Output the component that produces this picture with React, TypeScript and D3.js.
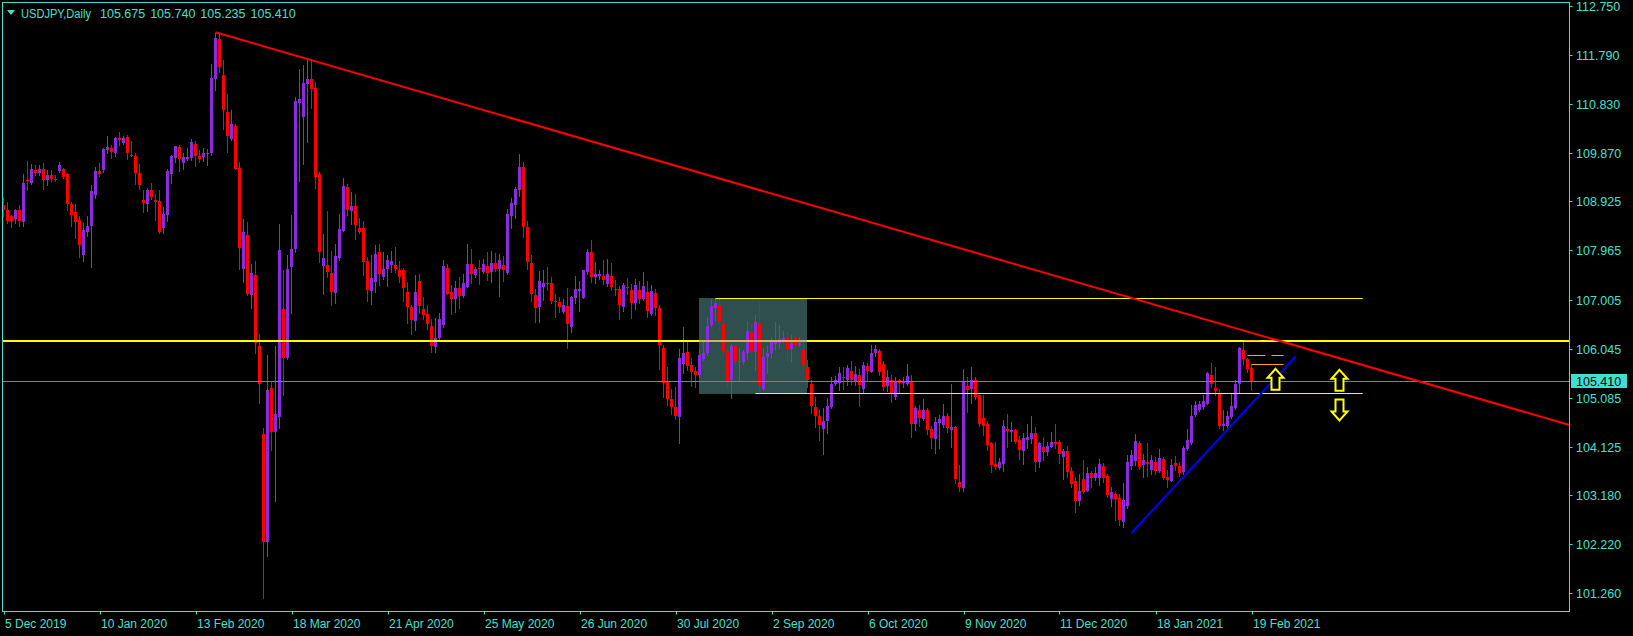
import React, { useEffect, useRef } from "react";
import { select, scaleLinear } from "d3";

// [open, high, low, close]
type Bar = [number, number, number, number];

const from5Dec2019: Bar[] = [
  [108.85, 109.01, 108.62, 108.75], [108.75, 108.92, 108.5, 108.54], [108.63, 108.66, 108.42, 108.54],
  [108.57, 108.78, 108.5, 108.75], [108.75, 108.85, 108.44, 108.54], [108.52, 109.45, 108.44, 109.29],
  [109.35, 109.71, 109.14, 109.32], [109.28, 109.66, 109.27, 109.56], [109.53, 109.63, 109.43, 109.48],
  [109.48, 109.63, 109.43, 109.56], [109.55, 109.68, 109.17, 109.34], [109.34, 109.53, 109.24, 109.43],
  [109.43, 109.53, 109.32, 109.36], [109.37, 109.43, 109.32, 109.36], [109.52, 109.69, 109.5, 109.64],
  [109.55, 109.58, 109.38, 109.4], [109.45, 109.48, 108.75, 108.87], [108.87, 108.91, 108.45, 108.66],
  [108.71, 108.87, 108.21, 108.53], [108.55, 108.63, 107.83, 108.07], [107.87, 108.51, 107.76, 108.37],
  [108.32, 108.63, 108.24, 108.45], [108.44, 109.24, 107.64, 109.13], [109.05, 109.59, 108.99, 109.52],
];

const from10Jan2020: Bar[] = [
  [109.51, 109.68, 109.42, 109.46], [109.54, 109.96, 109.5, 109.94], [109.92, 110.21, 109.86, 109.99],
  [109.96, 110.02, 109.77, 109.89], [109.87, 110.18, 109.82, 110.16], [110.16, 110.29, 110.03, 110.12],
  [110.07, 110.21, 110.04, 110.17], [110.18, 110.22, 109.75, 109.86], [109.84, 110.1, 109.82, 109.82],
  [109.82, 109.86, 109.27, 109.48], [109.48, 109.65, 109.17, 109.24], [108.96, 109.14, 108.71, 108.89],
  [108.87, 109.19, 108.74, 109.14], [109.14, 109.28, 108.97, 109.01], [108.96, 109.06, 108.55, 108.92],
  [108.94, 109.14, 108.3, 108.32], [108.4, 108.81, 108.3, 108.67], [108.66, 109.55, 108.54, 109.52],
  [109.45, 109.84, 109.28, 109.82], [109.77, 110.01, 109.69, 110.0], [109.98, 110.02, 109.52, 109.75],
  [109.67, 109.87, 109.56, 109.79], [109.75, 109.97, 109.73, 109.79], [109.78, 110.14, 109.74, 110.09],
];

const from13Feb2020: Bar[] = [
  [110.05, 110.1, 109.62, 109.82], [109.82, 109.92, 109.69, 109.75], [109.79, 109.96, 109.71, 109.86],
  [109.85, 109.94, 109.64, 109.86], [109.87, 111.61, 109.83, 111.34], [111.31, 112.21, 111.11, 112.12],
  [112.1, 112.19, 111.45, 111.55], [111.39, 111.69, 110.33, 110.72], [110.67, 111.03, 109.88, 110.21],
  [110.15, 110.71, 110.12, 110.43], [110.39, 110.44, 109.55, 109.56], [109.58, 109.69, 107.61, 108.01],
  [107.61, 108.57, 107.35, 108.33], [108.27, 108.53, 107.09, 107.12], [107.09, 107.7, 106.84, 107.53],
  [107.49, 107.76, 105.95, 106.16], [106.09, 106.34, 104.98, 105.35], [104.38, 104.5, 101.17, 102.26],
  [102.26, 105.92, 101.99, 105.24], [105.27, 105.39, 104.07, 104.41], [104.41, 106.1, 103.07, 104.77],
  [104.71, 108.49, 104.49, 107.98], [106.81, 107.58, 105.13, 105.86], [105.86, 107.87, 105.84, 107.61],
];

const from18Mar2020: Bar[] = [
  [107.65, 108.65, 106.74, 108.0], [108.0, 110.96, 107.93, 110.89], [110.85, 111.51, 109.32, 110.92],
  [110.58, 111.6, 109.65, 111.23], [111.22, 111.7, 110.09, 111.31], [111.31, 111.7, 110.75, 111.13],
  [111.15, 111.25, 109.19, 109.4], [109.45, 109.49, 107.73, 107.93], [107.66, 108.29, 107.12, 107.81],
  [107.68, 108.73, 107.44, 107.54], [107.52, 107.95, 106.89, 107.15], [107.13, 108.1, 106.94, 107.86],
  [107.81, 108.67, 107.77, 108.38], [108.35, 109.38, 108.35, 109.23], [109.2, 109.27, 108.65, 108.75],
  [108.74, 109.1, 108.49, 108.83], [108.83, 109.07, 108.18, 108.46], [108.4, 108.6, 108.31, 108.32],
  [108.4, 108.54, 107.48, 107.73], [107.76, 107.83, 106.97, 107.19], [107.17, 107.87, 106.91, 107.43],
  [107.35, 108.08, 107.15, 107.89], [107.93, 108.09, 107.29, 107.5], [107.44, 107.94, 107.4, 107.61],
];

const from21Apr2020: Bar[] = [
  [107.6, 107.88, 107.26, 107.77], [107.68, 107.95, 107.54, 107.76], [107.67, 108.04, 107.54, 107.6],
  [107.58, 107.76, 107.35, 107.45], [107.58, 107.62, 106.97, 107.23], [107.15, 107.34, 106.54, 106.86],
  [106.85, 106.89, 106.34, 106.6], [106.59, 107.49, 106.41, 107.15], [107.37, 107.5, 106.75, 106.88],
  [106.81, 107.06, 106.63, 106.7], [106.73, 106.89, 106.42, 106.52], [106.48, 106.62, 105.98, 106.1],
  [106.08, 106.65, 105.98, 106.25], [106.25, 106.75, 106.21, 106.63], [106.5, 107.77, 106.47, 107.66],
  [107.62, 107.69, 107.11, 107.12], [107.15, 107.28, 106.72, 107.01], [107.02, 107.36, 106.76, 107.23],
  [107.23, 107.44, 106.84, 107.08], [107.08, 107.5, 107.06, 107.32], [107.25, 108.09, 107.25, 107.7],
  [107.7, 107.99, 107.33, 107.5], [107.48, 107.64, 107.45, 107.6], [107.62, 107.77, 107.31, 107.6],
];

const from25May2020: Bar[] = [
  [107.55, 107.79, 107.52, 107.69], [107.66, 107.93, 107.39, 107.53], [107.55, 107.95, 107.35, 107.71],
  [107.71, 107.91, 107.57, 107.61], [107.61, 107.9, 107.08, 107.77], [107.67, 107.85, 107.37, 107.58],
  [107.53, 108.77, 107.5, 108.67], [108.64, 108.99, 108.41, 108.9], [108.86, 109.2, 108.6, 109.16],
  [109.15, 109.85, 109.03, 109.59], [109.59, 109.69, 108.23, 108.42], [108.42, 108.54, 107.6, 107.74],
  [107.71, 107.87, 106.97, 107.11], [107.09, 107.22, 106.57, 106.84], [106.86, 107.56, 106.57, 107.36],
  [107.25, 107.58, 106.99, 107.32], [107.32, 107.64, 107.2, 107.31], [107.32, 107.45, 106.94, 106.98],
  [106.97, 107.12, 106.66, 106.96], [106.95, 107.06, 106.76, 106.85], [106.76, 107.01, 106.74, 106.89],
  [106.88, 107.23, 106.06, 106.53], [106.47, 107.08, 106.37, 107.05], [107.04, 107.46, 106.93, 107.21],
];

const from26Jun2020: Bar[] = [
  [107.18, 107.36, 106.78, 107.21], [107.04, 107.59, 107.04, 107.58], [107.54, 107.99, 107.51, 107.93],
  [107.93, 108.16, 107.35, 107.45], [107.45, 107.73, 107.33, 107.5], [107.47, 107.58, 107.4, 107.5],
  [107.46, 107.77, 107.3, 107.39], [107.31, 107.79, 107.27, 107.51], [107.47, 107.71, 107.2, 107.25],
  [107.21, 107.39, 107.1, 107.19], [107.21, 107.26, 106.63, 106.89], [106.86, 107.32, 106.78, 107.28],
  [107.24, 107.42, 107.11, 107.23], [107.19, 107.3, 106.64, 106.94], [106.93, 107.4, 106.82, 107.28],
  [107.2, 107.37, 106.93, 107.02], [107.02, 107.55, 107.0, 107.26], [107.15, 107.36, 106.66, 106.78],
  [106.72, 107.28, 106.71, 107.17], [107.13, 107.22, 106.71, 106.84], [106.84, 106.89, 105.65, 106.11],
  [106.06, 106.11, 105.1, 105.37], [105.41, 105.68, 104.94, 105.06], [105.05, 105.25, 104.76, 104.9],
];

const from30Jul2020: Bar[] = [
  [104.9, 105.29, 104.66, 104.73], [104.71, 106.04, 104.19, 105.86], [105.74, 106.46, 105.57, 105.95],
  [105.97, 106.19, 105.62, 105.71], [105.72, 105.87, 105.31, 105.59], [105.6, 105.69, 105.3, 105.52],
  [105.52, 106.04, 105.49, 105.91], [105.85, 106.19, 105.83, 105.95], [105.95, 106.66, 105.91, 106.49],
  [106.51, 107.02, 106.49, 106.87], [106.83, 107.04, 106.6, 106.93], [106.89, 107.02, 106.42, 106.57],
  [106.52, 106.6, 105.88, 105.98], [105.99, 106.03, 105.28, 105.4], [105.43, 106.13, 105.08, 106.1],
  [106.1, 106.12, 105.72, 105.8], [105.78, 106.06, 105.44, 105.8], [105.79, 106.01, 105.74, 105.97],
  [105.96, 106.58, 105.85, 106.38], [106.36, 106.53, 105.91, 105.98], [105.98, 106.7, 105.62, 106.57],
  [106.55, 106.95, 105.17, 105.33], [105.26, 106.06, 105.24, 105.88], [105.88, 106.12, 105.56, 105.95],
];

const from2Sep2020: Bar[] = [
  [105.95, 106.27, 105.86, 106.19], [106.13, 106.57, 106.01, 106.2], [106.16, 106.5, 106.05, 106.23],
  [106.22, 106.38, 106.18, 106.25], [106.26, 106.37, 105.83, 106.03], [106.03, 106.31, 105.8, 106.16],
  [106.25, 106.31, 106.04, 106.11], [106.12, 106.27, 106.1, 106.16], [106.01, 106.13, 105.56, 105.71],
  [105.68, 105.82, 105.3, 105.43], [105.35, 105.44, 104.79, 104.92], [104.9, 105.1, 104.51, 104.73],
  [104.72, 104.87, 104.26, 104.56], [104.48, 104.88, 103.99, 104.63], [104.63, 105.07, 104.39, 104.92],
  [104.9, 105.49, 104.89, 105.36], [105.36, 105.51, 105.33, 105.43], [105.38, 105.69, 105.23, 105.56],
  [105.48, 105.69, 105.26, 105.47], [105.44, 105.73, 105.33, 105.67], [105.6, 105.8, 105.36, 105.44],
  [105.41, 105.71, 105.33, 105.54], [105.52, 105.64, 104.92, 105.34], [105.26, 105.78, 105.2, 105.73],
];

const from6Oct2020: Bar[] = [
  [105.71, 105.77, 105.44, 105.61], [105.59, 106.11, 105.58, 105.95], [105.95, 106.11, 105.9, 106.03],
  [106.0, 106.04, 105.52, 105.59], [105.74, 105.8, 105.23, 105.29], [105.31, 105.62, 105.22, 105.48],
  [105.44, 105.52, 105.01, 105.18], [105.1, 105.48, 105.05, 105.42], [105.43, 105.46, 105.18, 105.37],
  [105.37, 105.49, 105.29, 105.42], [105.36, 105.74, 105.33, 105.5], [105.42, 105.52, 104.32, 104.58],
  [104.58, 104.92, 104.45, 104.88], [104.84, 104.94, 104.53, 104.69], [104.66, 105.05, 104.64, 104.84],
  [104.84, 104.89, 104.37, 104.45], [104.47, 104.54, 104.1, 104.3], [104.28, 104.71, 104.01, 104.6],
  [104.59, 104.74, 104.1, 104.66], [104.55, 104.96, 104.52, 104.73], [104.72, 104.79, 104.41, 104.5],
  [104.45, 105.35, 104.13, 104.51], [104.51, 104.53, 103.42, 103.49], [103.43, 103.76, 103.27, 103.34],
];

const from9Nov2020: Bar[] = [
  [103.32, 105.64, 103.27, 105.39], [105.31, 105.48, 104.81, 105.23], [105.26, 105.69, 104.98, 105.43],
  [105.43, 105.49, 105.05, 105.09], [105.13, 105.14, 104.54, 104.58], [104.69, 105.13, 104.36, 104.54],
  [104.58, 104.62, 104.06, 104.16], [104.19, 104.22, 103.63, 103.77], [103.79, 104.21, 103.7, 103.73],
  [103.71, 103.9, 103.7, 103.83], [103.79, 104.64, 103.66, 104.54], [104.47, 104.76, 104.12, 104.43],
  [104.41, 104.6, 104.24, 104.45], [104.45, 104.48, 104.19, 104.21], [104.26, 104.33, 103.89, 104.06],
  [104.04, 104.4, 103.79, 104.3], [104.26, 104.58, 104.1, 104.32], [104.28, 104.73, 104.19, 104.4],
  [104.4, 104.52, 103.65, 103.83], [103.83, 104.22, 103.73, 104.19], [104.13, 104.31, 103.87, 104.02],
  [104.02, 104.22, 103.96, 104.15], [104.13, 104.41, 104.12, 104.22], [104.22, 104.58, 104.1, 104.17],
];

const from11Dec2020: Bar[] = [
  [104.22, 104.26, 103.81, 103.99], [103.93, 104.09, 103.5, 104.04], [104.04, 104.15, 103.53, 103.63],
  [103.66, 103.73, 103.34, 103.39], [103.45, 103.53, 102.85, 103.06], [103.06, 103.59, 102.98, 103.27],
  [103.5, 103.87, 103.23, 103.24], [103.27, 103.73, 103.26, 103.61], [103.61, 103.66, 103.34, 103.51],
  [103.51, 103.73, 103.48, 103.62], [103.51, 103.89, 103.38, 103.78], [103.74, 103.8, 103.44, 103.51],
  [103.55, 103.59, 103.14, 103.18], [103.1, 103.33, 102.96, 103.25], [103.2, 103.27, 102.7, 103.1],
  [103.12, 103.21, 102.59, 102.69], [102.65, 103.42, 102.56, 103.09], [102.97, 103.96, 102.93, 103.82],
  [103.75, 104.06, 103.7, 103.96], [103.85, 104.38, 103.76, 104.23], [104.19, 104.23, 103.7, 103.73],
  [103.76, 103.99, 103.53, 103.86], [103.83, 104.19, 103.55, 103.78], [103.68, 103.96, 103.59, 103.86],
];

const from18Jan2021: Bar[] = [
  [103.83, 103.93, 103.6, 103.66], [103.66, 104.08, 103.63, 103.9], [103.88, 103.93, 103.49, 103.52],
  [103.53, 103.68, 103.33, 103.48], [103.46, 103.89, 103.45, 103.76], [103.8, 103.94, 103.68, 103.74],
  [103.74, 103.83, 103.55, 103.61], [103.63, 104.15, 103.59, 104.11], [104.09, 104.47, 104.07, 104.25],
  [104.19, 104.94, 104.17, 104.72], [104.75, 105.03, 104.72, 104.94], [104.85, 105.03, 104.83, 104.96],
  [104.9, 105.13, 104.86, 105.03], [104.97, 105.58, 104.96, 105.56], [105.52, 105.76, 105.29, 105.36],
  [105.28, 105.69, 105.13, 105.21], [105.18, 105.26, 104.5, 104.54], [104.54, 104.84, 104.45, 104.58],
  [104.53, 104.83, 104.51, 104.73], [104.7, 105.15, 104.69, 104.92], [104.88, 105.43, 104.87, 105.36],
  [105.36, 106.08, 105.17, 106.05], [106.01, 106.22, 105.75, 105.84], [105.85, 105.87, 105.58, 105.65],
];

const from19Feb2021: Bar[] = [[105.675, 105.74, 105.235, 105.41]];

const segments = [
  { label: "5 Dec 2019", bars: from5Dec2019 },
  { label: "10 Jan 2020", bars: from10Jan2020 },
  { label: "13 Feb 2020", bars: from13Feb2020 },
  { label: "18 Mar 2020", bars: from18Mar2020 },
  { label: "21 Apr 2020", bars: from21Apr2020 },
  { label: "25 May 2020", bars: from25May2020 },
  { label: "26 Jun 2020", bars: from26Jun2020 },
  { label: "30 Jul 2020", bars: from30Jul2020 },
  { label: "2 Sep 2020", bars: from2Sep2020 },
  { label: "6 Oct 2020", bars: from6Oct2020 },
  { label: "9 Nov 2020", bars: from9Nov2020 },
  { label: "11 Dec 2020", bars: from11Dec2020 },
  { label: "18 Jan 2021", bars: from18Jan2021 },
  { label: "19 Feb 2021", bars: from19Feb2021 },
];

const priceTicks = [
  112.75, 111.79, 110.83, 109.87, 108.925, 107.965, 107.005, 106.045, 105.085, 104.125, 103.18,
  102.22, 101.26,
];

const symbolTitle = "USDJPY,Daily";
const bidPrice = 105.41;
const resistance = 106.19;

// drawn objects (bar index, price)
const redTrend = [{ bar: 53, price: 112.23 }, { bar: 310, price: 106.4 }];
const blueTrend = [{ bar: 282, price: 102.44 }, { bar: 323, price: 105.89 }];
const rangeBox = { from: 173.9, to: 200.8, top: 107.04, bottom: 105.17 };
const rangeLines = [
  { from: 178, to: 339.8, price: 107.04 },
  { from: 188, to: 339.8, price: 105.17 },
];
const highLines = [
  { from: 310, to: 320, price: 106.22, color: "#ffc000", dash: "17,6" },
  { from: 311, to: 320, price: 105.91, color: "#ffa500", dash: "18,6" },
  { from: 312, to: 320, price: 105.74, color: "#ffa500", dash: null },
];
const arrows = [
  { bar: 318, price: 105.65, dir: "up" },
  { bar: 334, price: 105.63, dir: "up" },
  { bar: 334, price: 104.64, dir: "down" },
];

const FG = "#40e0d0";
const BULL = "#8a2be2";
const BEAR = "#ff0000";
const FONT = "'Liberation Sans', Arial, sans-serif";

const App = () => {
  const svgRef = useRef<SVGSVGElement>(null);

  useEffect(() => {
    const width = 1633;
    const height = 636;
    const left = 2.5;
    const right = 1569.5;
    const top = 2.5;
    const bottom = 611.5;

    const bars = segments.flatMap((s) => s.bars);
    const starts: number[] = [];
    segments.reduce((n, s) => {
      starts.push(n);
      return n + s.bars.length;
    }, 0);

    const xScale = scaleLinear().domain([0, bars.length - 1]).range([3.5, 1251.5]);
    const yScale = scaleLinear().domain([101.26, 112.75]).range([593.3, 5.7]);
    const lastBar = xScale.invert(right);
    const py = (p: number) => Math.round(yScale(p)) + 0.5;

    const svg = select(svgRef.current);
    svg.selectAll("*").remove();
    svg.attr("width", width).attr("height", height);

    svg.append("rect").attr("width", width).attr("height", height).attr("fill", "#000");

    // range rectangle (background object)
    svg
      .append("rect")
      .attr("x", Math.round(xScale(rangeBox.from)))
      .attr("y", Math.round(yScale(rangeBox.top)))
      .attr("width", Math.round(xScale(rangeBox.to) - xScale(rangeBox.from)))
      .attr("height", Math.round(yScale(rangeBox.bottom) - yScale(rangeBox.top)))
      .attr("fill", "#2f4f4f");

    // candles
    const g = svg.append("g");
    g.selectAll("line")
      .data(bars)
      .join("line")
      .attr("x1", (d, i) => xScale(i))
      .attr("x2", (d, i) => xScale(i))
      .attr("y1", (d) => Math.round(yScale(d[1])))
      .attr("y2", (d) => Math.round(yScale(d[2])) + 1)
      .attr("stroke", (d) => (d[3] >= d[0] ? BULL : BEAR))
      .attr("stroke-width", 1);

    g.selectAll("rect")
      .data(bars)
      .join("rect")
      .attr("x", (d, i) => xScale(i) - 1.5)
      .attr("width", 3)
      .attr("y", (d) => Math.round(yScale(Math.max(d[0], d[3]))))
      .attr("height", (d) =>
        Math.max(1, Math.round(yScale(Math.min(d[0], d[3]))) - Math.round(yScale(Math.max(d[0], d[3]))))
      )
      .attr("fill", (d) => (d[3] >= d[0] ? BULL : BEAR));

    // horizontal levels
    svg
      .append("line")
      .attr("x1", left)
      .attr("x2", right)
      .attr("y1", py(bidPrice))
      .attr("y2", py(bidPrice))
      .attr("stroke", "#808080");

    const ry = Math.round(yScale(resistance));
    svg
      .append("line")
      .attr("x1", left)
      .attr("x2", right)
      .attr("y1", ry)
      .attr("y2", ry)
      .attr("stroke", "#ffff00")
      .attr("stroke-width", 2);
    svg
      .append("line")
      .attr("x1", Math.round(xScale(rangeBox.from)))
      .attr("x2", Math.round(xScale(rangeBox.to)))
      .attr("y1", ry)
      .attr("y2", ry)
      .attr("stroke", "#d6b25c")
      .attr("stroke-width", 2);

    rangeLines.forEach((l) => {
      svg
        .append("line")
        .attr("x1", xScale(l.from))
        .attr("x2", xScale(l.to))
        .attr("y1", py(l.price))
        .attr("y2", py(l.price))
        .attr("stroke", "#ffff00");
    });

    highLines.forEach((l) => {
      svg
        .append("line")
        .attr("x1", xScale(l.from))
        .attr("x2", xScale(l.to))
        .attr("y1", py(l.price))
        .attr("y2", py(l.price))
        .attr("stroke", l.color)
        .attr("stroke-dasharray", l.dash);
    });

    // trend lines
    const redPrice = scaleLinear()
      .domain([redTrend[0].bar, redTrend[1].bar])
      .range([redTrend[0].price, redTrend[1].price]);
    svg
      .append("line")
      .attr("x1", xScale(redTrend[0].bar))
      .attr("y1", yScale(redTrend[0].price))
      .attr("x2", right)
      .attr("y2", yScale(redPrice(lastBar)))
      .attr("stroke", "#ff0000")
      .attr("stroke-width", 2);

    svg
      .append("line")
      .attr("x1", xScale(blueTrend[0].bar))
      .attr("y1", yScale(blueTrend[0].price))
      .attr("x2", xScale(blueTrend[1].bar))
      .attr("y2", yScale(blueTrend[1].price))
      .attr("stroke", "#0000ff")
      .attr("stroke-width", 2);

    // hollow arrows
    arrows.forEach((a) => {
      const cx = xScale(a.bar);
      const ty = yScale(a.price);
      const s = a.dir === "up" ? 1 : -1;
      const pts = [
        [cx, ty],
        [cx + 8, ty + s * 9],
        [cx + 4, ty + s * 9],
        [cx + 4, ty + s * 21],
        [cx - 4, ty + s * 21],
        [cx - 4, ty + s * 9],
        [cx - 8, ty + s * 9],
      ];
      svg
        .append("polygon")
        .attr("points", pts.map((p) => p.join(",")).join(" "))
        .attr("fill", "#000")
        .attr("stroke", "#ffff00")
        .attr("stroke-width", 2)
        .attr("stroke-linejoin", "miter");
    });

    // frame
    svg
      .append("rect")
      .attr("x", left)
      .attr("y", top)
      .attr("width", right - left)
      .attr("height", bottom - top)
      .attr("fill", "none")
      .attr("stroke", FG);

    // price axis
    const pa = svg.append("g").attr("font-family", FONT).attr("font-size", 12.5);
    priceTicks.forEach((p) => {
      const yy = Math.round(yScale(p)) + 0.5;
      pa.append("line").attr("x1", right).attr("x2", right + 3).attr("y1", yy).attr("y2", yy).attr("stroke", FG);
      pa.append("text").attr("x", 1576).attr("y", yy + 4.5).attr("fill", FG).text(p.toFixed(3));
    });
    const by = Math.round(yScale(bidPrice));
    pa.append("rect").attr("x", 1571).attr("y", by - 7).attr("width", 56).attr("height", 14).attr("fill", FG);
    pa.append("text").attr("x", 1576).attr("y", by + 4.5).attr("fill", "#000").text(bidPrice.toFixed(3));

    // time axis
    const ta = svg.append("g").attr("font-family", FONT).attr("font-size", 12);
    segments.forEach((s, k) => {
      const xx = Math.round(xScale(starts[k])) + 0.5;
      ta.append("line").attr("x1", xx).attr("x2", xx).attr("y1", bottom).attr("y2", bottom + 3).attr("stroke", FG);
      ta.append("text").attr("x", xx + 0.5).attr("y", 628).attr("fill", FG).text(s.label);
    });

    // header
    const last = bars[bars.length - 1];
    svg.append("polygon").attr("points", "7,10 15,10 11,15").attr("fill", FG);
    svg
      .append("text")
      .attr("x", 21)
      .attr("y", 17.5)
      .attr("font-family", FONT)
      .attr("font-size", 12.5)
      .attr("fill", FG)
      .attr("textLength", 70)
      .attr("lengthAdjust", "spacingAndGlyphs")
      .text(symbolTitle);
    svg
      .append("text")
      .attr("x", 100)
      .attr("y", 17.5)
      .attr("font-family", FONT)
      .attr("font-size", 12.5)
      .attr("fill", FG)
      .attr("word-spacing", 1.5)
      .text(last.map((v) => v.toFixed(3)).join(" "));
  }, []);

  return (
    <svg
      ref={svgRef}
      style={{ position: "absolute", left: 0, top: 0, display: "block", background: "#000" }}
    />
  );
};

export default App;
